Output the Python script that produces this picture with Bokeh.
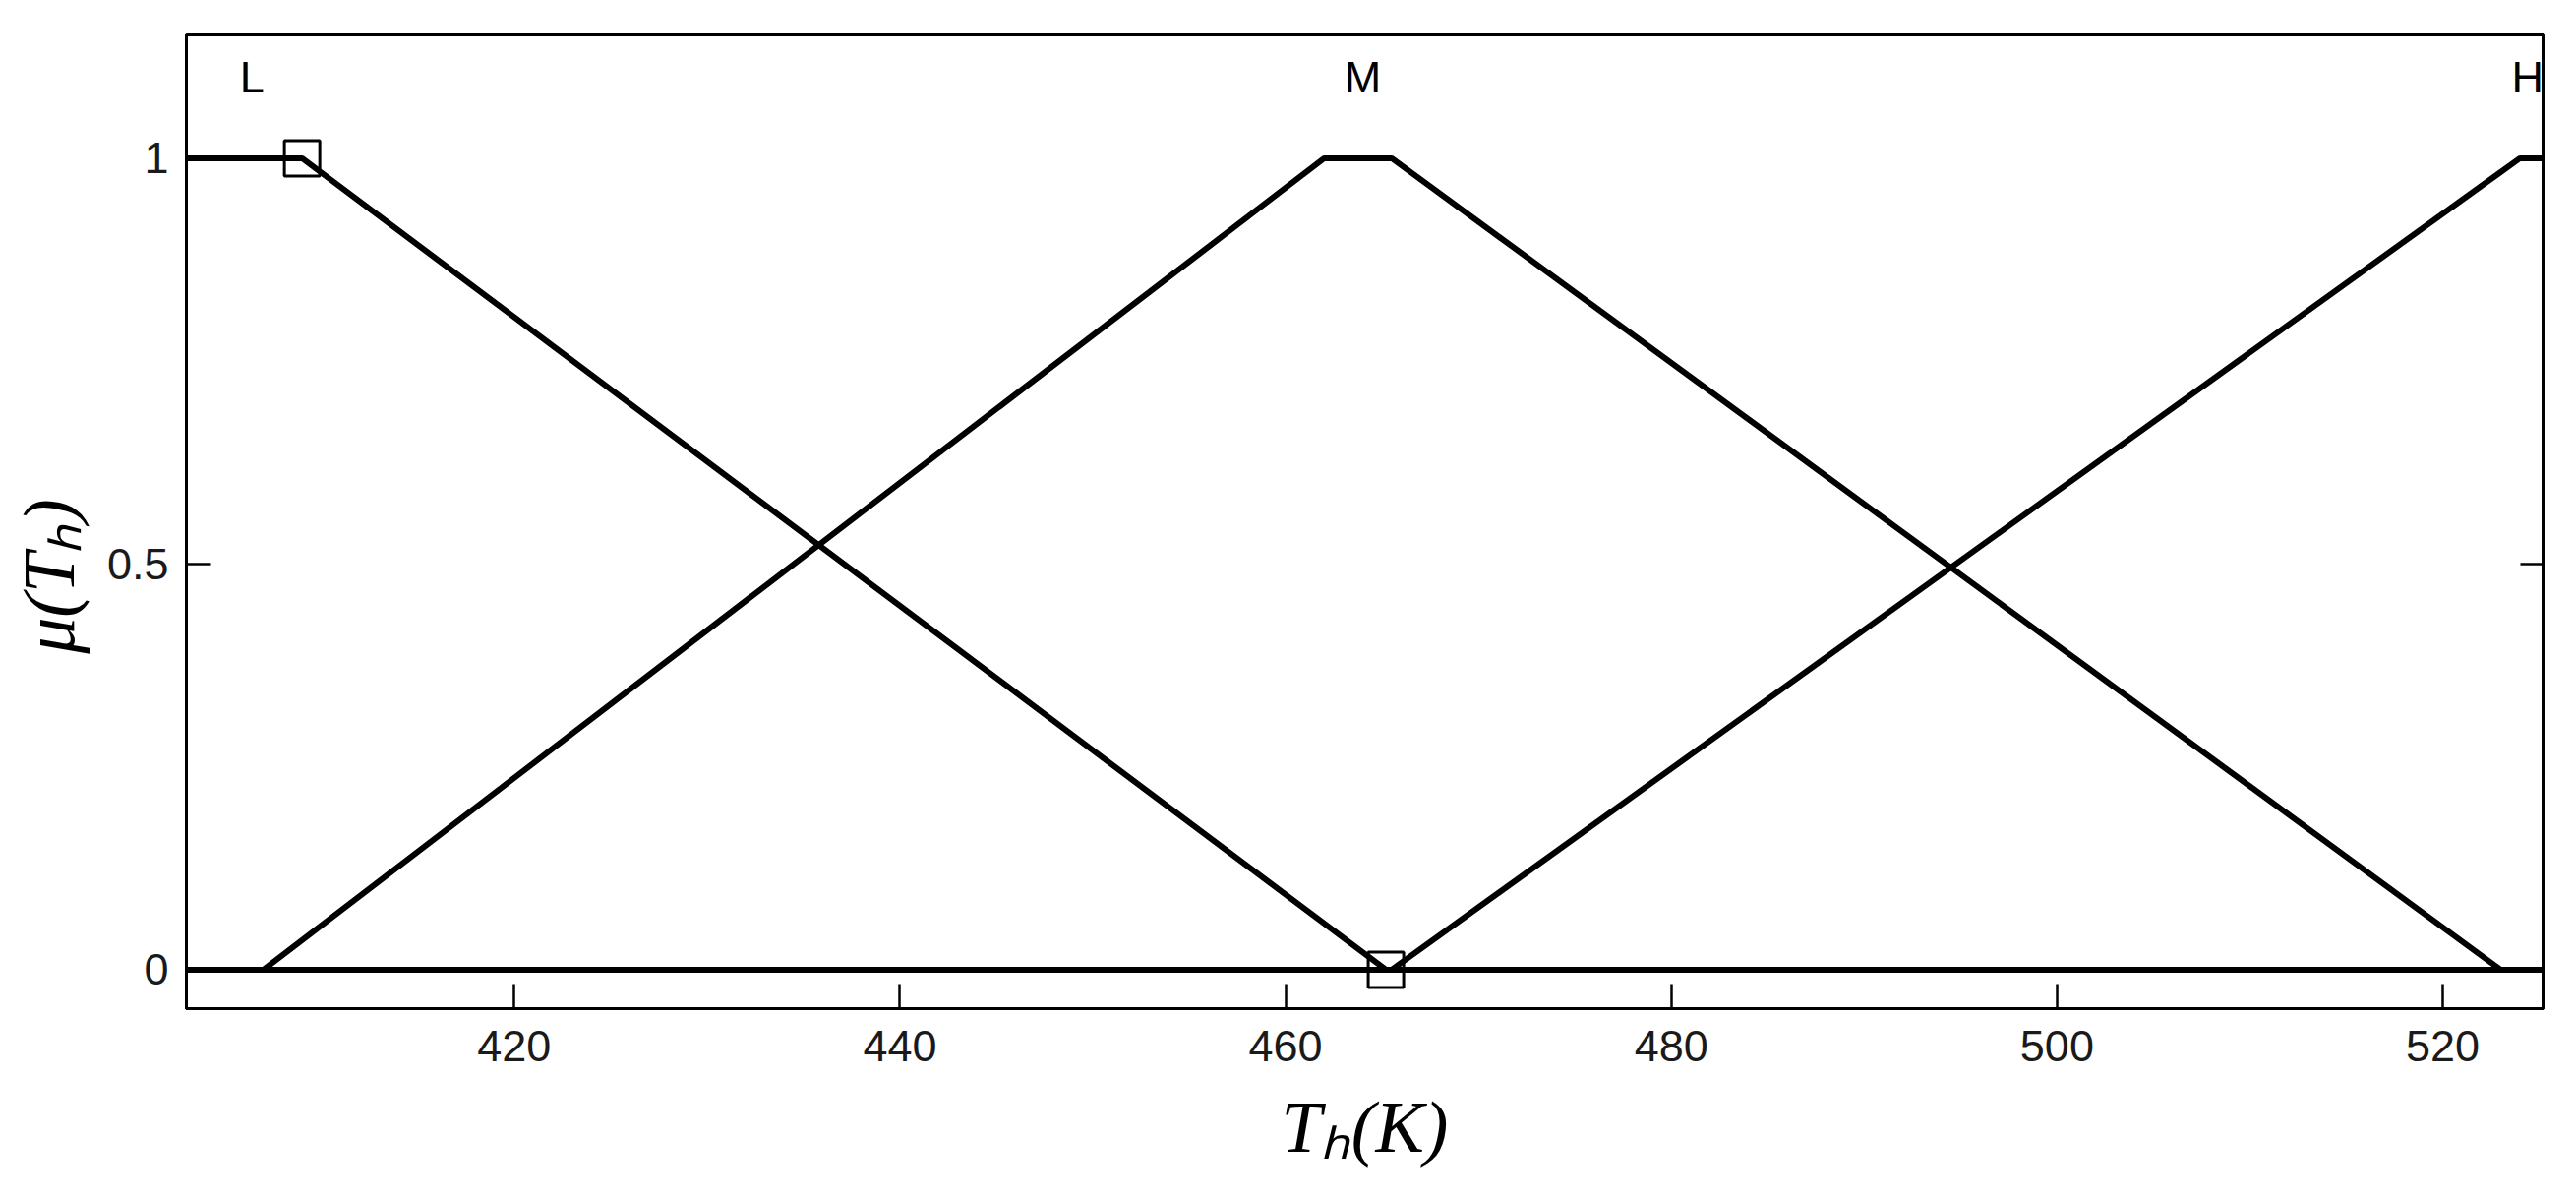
from bokeh.plotting import figure
from bokeh.models import LinearAxis, FixedTicker, NumeralTickFormatter, Range1d, CustomJSTickFormatter
from bokeh.core.properties import value
from bokeh.embed import file_html
from bokeh.resources import INLINE

# ---- data ----
x_min, x_max = 403.0, 525.2
y_min, y_max = -0.048, 1.152

low_x = [403.0, 409.0, 465.2, 525.2]
low_y = [1, 1, 0, 0]

mid_x = [403.0, 407.0, 462.0, 465.5, 523.0, 525.2]
mid_y = [0, 0, 1, 1, 0, 0]

high_x = [403.0, 465.5, 524.0, 525.2]
high_y = [0, 0, 1, 1]

marker_x = [409.0, 465.2]
marker_y = [1, 0]

set_labels = ["L", "M", "H"]
set_label_x = [406.4, 464.0, 524.4]
set_label_y = [1.1, 1.1, 1.1]

x_ticks = [420, 440, 460, 480, 500, 520]
y_ticks = [0, 0.5, 1]

x_title = "T\u2095(K)"
y_title = "\u03bc(T\u2095)"

# ---- figure ----
p = figure(width=2600, height=1200, output_backend="svg", toolbar_location=None,
           x_range=Range1d(x_min, x_max), y_range=Range1d(y_min, y_max),
           min_border_left=189, min_border_right=15, min_border_top=35, min_border_bottom=175)
p.background_fill_color = "white"
p.border_fill_color = "white"
p.grid.visible = False
p.outline_line_color = "black"
p.outline_line_width = 3

lw = 6
p.line(low_x, low_y, line_color="black", line_width=lw)
p.line(mid_x, mid_y, line_color="black", line_width=lw)
p.line(high_x, high_y, line_color="black", line_width=lw)
p.scatter(marker_x, marker_y, marker="square", size=36, fill_alpha=0,
          line_color="black", line_width=3)

p.text(set_label_x, set_label_y, text=set_labels, text_font=value("Liberation Sans"),
       text_font_size="45px", text_align="center", text_baseline="middle", text_color="black")

for ax in (p.xaxis[0], p.yaxis[0]):
    ax.axis_line_color = "black"
    ax.axis_line_width = 3
    ax.major_tick_in = 25
    ax.major_tick_out = 0
    ax.major_tick_line_width = 2.5
    ax.major_tick_line_color = "black"
    ax.minor_tick_line_color = None
    ax.major_label_text_font = "Liberation Sans"
    ax.major_label_text_font_size = "45px"
    ax.major_label_text_color = "#1a1a1a"
    ax.axis_label_text_font = "Liberation Serif"
    ax.axis_label_text_font_style = "italic"
    ax.axis_label_text_font_size = "74px"
    ax.axis_label_text_color = "black"

p.xaxis.ticker = FixedTicker(ticks=x_ticks)
p.xaxis.major_label_standoff = 22
p.xaxis.axis_label = x_title
p.xaxis.axis_label_standoff = 23

p.yaxis.ticker = FixedTicker(ticks=y_ticks)
p.yaxis.formatter = NumeralTickFormatter(format="0.[0]")
p.yaxis.major_label_standoff = 18
# trailing em/en space nudges the rotated title slightly downward, as in the reference
p.yaxis.axis_label = y_title + "\u2003\u2002"
p.yaxis.axis_label_standoff = 15

r = LinearAxis(ticker=FixedTicker(ticks=y_ticks),
               formatter=CustomJSTickFormatter(code="return ''"))
r.axis_line_color = "black"
r.axis_line_width = 3
r.major_tick_in = 23
r.major_tick_out = 0
r.major_tick_line_width = 2.5
r.minor_tick_line_color = None
r.major_label_standoff = 0
p.add_layout(r, "right")

open("out.html", "w").write(file_html(p, INLINE))
